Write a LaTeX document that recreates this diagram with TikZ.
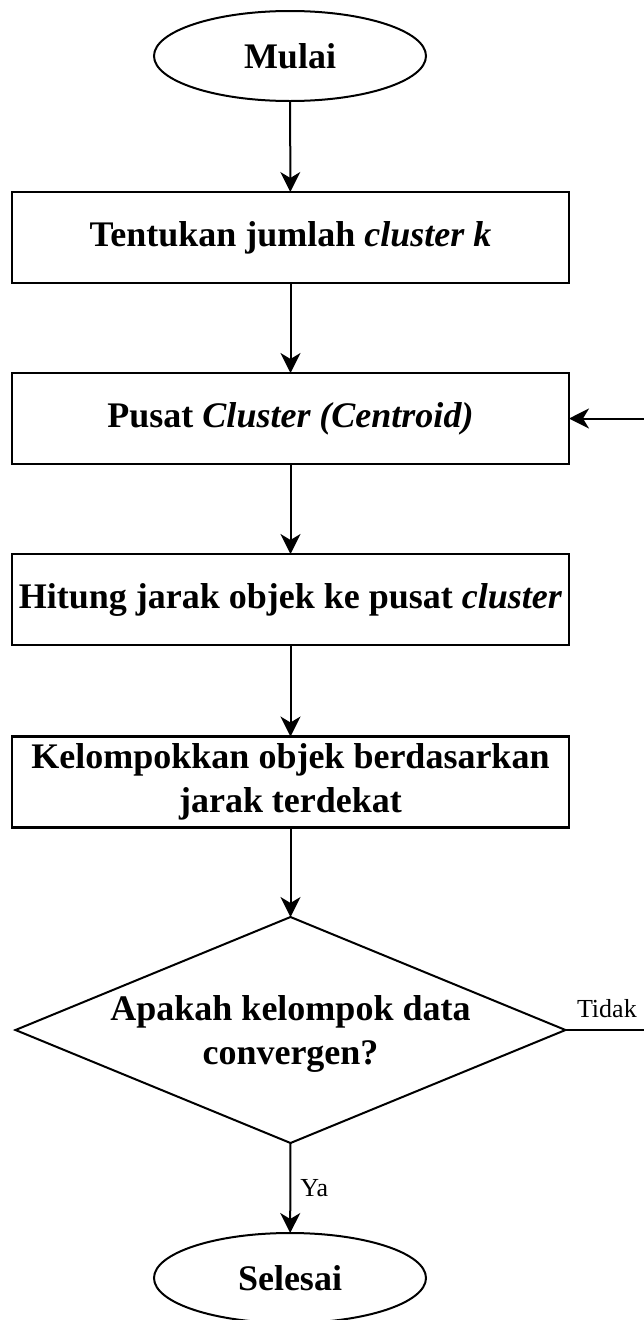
\documentclass[tikz,border=0pt]{standalone}
\usepackage{fontspec}
\setmainfont{Liberation Serif}
\usetikzlibrary{shapes.geometric,arrows.meta}
\begin{document}
\begin{tikzpicture}[x=1pt,y=-1pt,
  every node/.style={inner sep=0pt, outer sep=0pt},
  proc/.style={draw, line width=2.2pt, rectangle, minimum width=557pt, minimum height=91pt,
    font=\fontsize{36}{44}\selectfont\bfseries, align=center},
  term/.style={draw, line width=2pt, ellipse, minimum width=272pt, minimum height=90pt,
    font=\fontsize{36}{44}\selectfont\bfseries},
  decis/.style={draw, line width=2pt, diamond, minimum width=550pt, minimum height=226pt},
  dectxt/.style={font=\fontsize{36}{44}\selectfont\bfseries, align=center},
  lbl/.style={font=\fontsize{26}{30}\selectfont},
  flow/.style={line width=2pt, -{Stealth[length=20pt,width=20pt,inset=6pt]}}
]
\useasboundingbox (0,0) rectangle (643,1320);
\node[term] (start) at (290,56) {Mulai};
\node[proc] (b1) at (290.5,237.5) {Tentukan jumlah \textit{cluster k}};
\node[proc] (b2) at (290.5,418.5) {Pusat \textit{Cluster (Centroid)}};
\node[proc] (b3) at (290.5,599.5) {Hitung jarak objek ke pusat \textit{cluster}};
\node[proc] (b4) at (290.5,782) {Kelompokkan objek berdasarkan\\jarak terdekat};
\node[decis] (dec) at (290.5,1030) {};
\node[dectxt] (dect) at (290.5,1034) {Apakah kelompok data\\convergen?};
\node[term] (stop) at (290,1278) {Selesai};
\coordinate (rb) at (664,1030);
\coordinate (rt) at (664,418.5);
\draw[flow] (start) -- (b1);
\draw[flow] (b1) -- (b2);
\draw[flow] (b2) -- (b3);
\draw[flow] (b3) -- (b4);
\draw[flow] (b4) -- (dec.north);
\draw[flow] (dec.south) -- node[lbl, anchor=west, xshift=10pt] (ya) {Ya} (stop);
\draw[flow] (dec.east) -- (rb) -- (rt) -- (b2.east);
\node[lbl, anchor=west] (tidak) at (577,1009) {Tidak};
\end{tikzpicture}
\end{document}
